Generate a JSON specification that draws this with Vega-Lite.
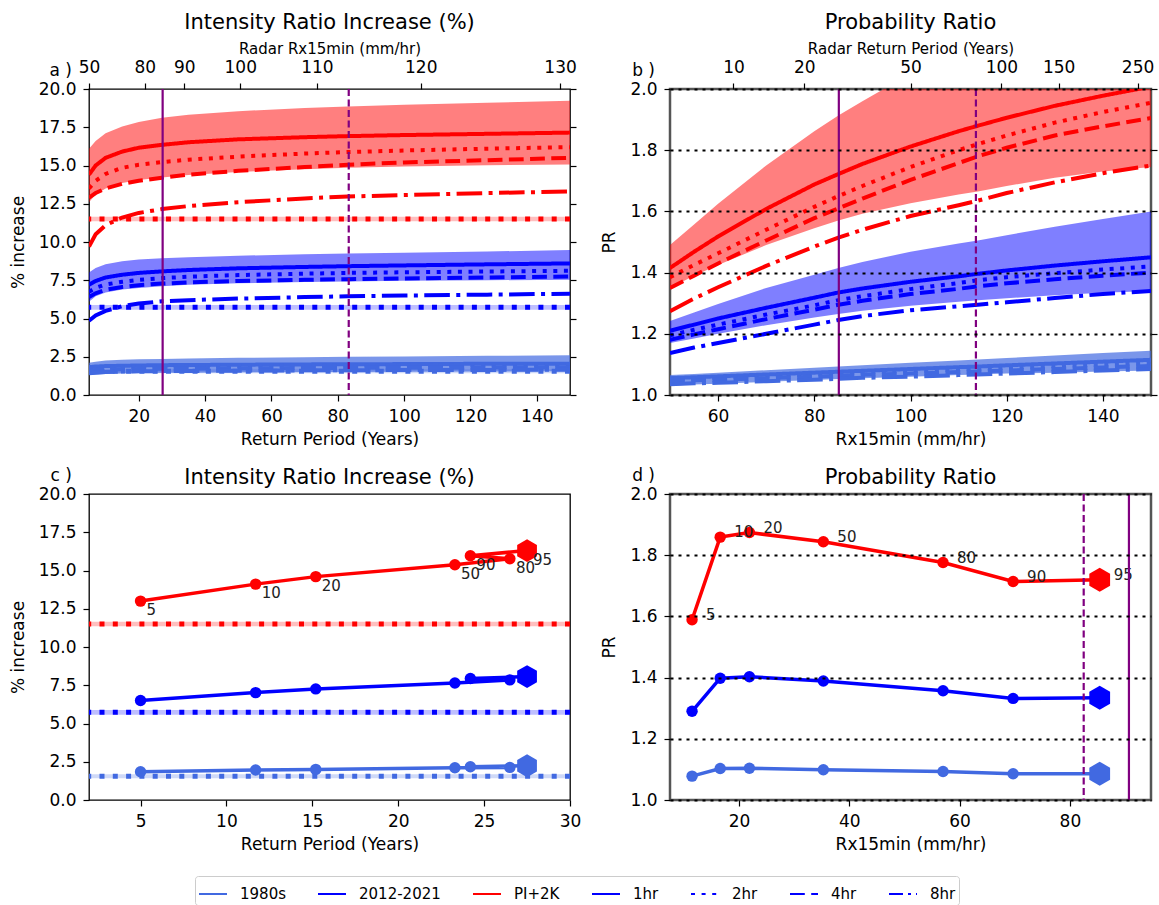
{
"$schema": "https://vega.github.io/schema/vega-lite/v6.json",
"padding": {"left": 8, "top": 10, "right": 2, "bottom": 0},
"background": "white",
"config": {
  "font": "DejaVu Sans",
  "view": {"stroke": "black", "strokeWidth": 1.3},
  "axis": {"domain": false, "grid": false, "tickSize": 6, "tickColor": "black", "tickWidth": 1.2, "labelFontSize": 17, "labelColor": "black", "labelPadding": 7, "labelFlush": false, "labelOverlap": false, "titleFontSize": 17, "titleFontWeight": "normal", "titleColor": "black", "titlePadding": 7},
  "axisY": {"titlePadding": 11},
  "title": {"fontSize": 21, "fontWeight": "normal", "color": "black", "frame": "group", "anchor": "middle"},
  "text": {"font": "DejaVu Sans"}
},
"datasets": {
  "pa": [
    {"grp":"PI+2K","x":5,"lo":12.6,"hi":16.1,"1hr":14.4,"2hr":13.5,"4hr":12.9,"8hr":9.7},
    {"grp":"PI+2K","x":7,"lo":13.1,"hi":16.6,"1hr":15.0,"2hr":14.0,"4hr":13.2,"8hr":10.5},
    {"grp":"PI+2K","x":10,"lo":13.5,"hi":17.1,"1hr":15.5,"2hr":14.45,"4hr":13.5,"8hr":11.1},
    {"grp":"PI+2K","x":15,"lo":13.85,"hi":17.55,"1hr":15.91,"2hr":14.85,"4hr":13.8,"8hr":11.6},
    {"grp":"PI+2K","x":20,"lo":14.05,"hi":17.85,"1hr":16.16,"2hr":15.05,"4hr":14.0,"8hr":11.9},
    {"grp":"PI+2K","x":27,"lo":14.22,"hi":18.12,"1hr":16.35,"2hr":15.22,"4hr":14.2,"8hr":12.15},
    {"grp":"PI+2K","x":35,"lo":14.38,"hi":18.32,"1hr":16.52,"2hr":15.38,"4hr":14.4,"8hr":12.35},
    {"grp":"PI+2K","x":50,"lo":14.58,"hi":18.55,"1hr":16.71,"2hr":15.58,"4hr":14.65,"8hr":12.6},
    {"grp":"PI+2K","x":70,"lo":14.76,"hi":18.76,"1hr":16.85,"2hr":15.78,"4hr":14.9,"8hr":12.85},
    {"grp":"PI+2K","x":83,"lo":14.85,"hi":18.86,"1hr":16.92,"2hr":15.88,"4hr":15.05,"8hr":12.97},
    {"grp":"PI+2K","x":100,"lo":14.93,"hi":18.97,"1hr":16.99,"2hr":15.98,"4hr":15.2,"8hr":13.07},
    {"grp":"PI+2K","x":125,"lo":15.01,"hi":19.1,"1hr":17.07,"2hr":16.1,"4hr":15.35,"8hr":13.2},
    {"grp":"PI+2K","x":150,"lo":15.07,"hi":19.23,"1hr":17.15,"2hr":16.2,"4hr":15.5,"8hr":13.3},
    {"grp":"2012-2021","x":5,"lo":6.1,"hi":8.0,"1hr":7.2,"2hr":6.75,"4hr":6.4,"8hr":4.85},
    {"grp":"2012-2021","x":7,"lo":6.45,"hi":8.3,"1hr":7.45,"2hr":7.0,"4hr":6.65,"8hr":5.2},
    {"grp":"2012-2021","x":10,"lo":6.7,"hi":8.55,"1hr":7.68,"2hr":7.22,"4hr":6.88,"8hr":5.5},
    {"grp":"2012-2021","x":15,"lo":6.9,"hi":8.75,"1hr":7.86,"2hr":7.4,"4hr":7.06,"8hr":5.8},
    {"grp":"2012-2021","x":20,"lo":7.0,"hi":8.85,"1hr":7.98,"2hr":7.53,"4hr":7.18,"8hr":5.98},
    {"grp":"2012-2021","x":27,"lo":7.1,"hi":8.93,"1hr":8.08,"2hr":7.64,"4hr":7.28,"8hr":6.12},
    {"grp":"2012-2021","x":35,"lo":7.2,"hi":9.0,"1hr":8.17,"2hr":7.73,"4hr":7.36,"8hr":6.2},
    {"grp":"2012-2021","x":50,"lo":7.3,"hi":9.1,"1hr":8.28,"2hr":7.84,"4hr":7.45,"8hr":6.3},
    {"grp":"2012-2021","x":70,"lo":7.38,"hi":9.2,"1hr":8.37,"2hr":7.93,"4hr":7.53,"8hr":6.4},
    {"grp":"2012-2021","x":83,"lo":7.42,"hi":9.25,"1hr":8.42,"2hr":7.98,"4hr":7.57,"8hr":6.45},
    {"grp":"2012-2021","x":100,"lo":7.46,"hi":9.3,"1hr":8.47,"2hr":8.02,"4hr":7.62,"8hr":6.5},
    {"grp":"2012-2021","x":125,"lo":7.5,"hi":9.38,"1hr":8.54,"2hr":8.07,"4hr":7.68,"8hr":6.56},
    {"grp":"2012-2021","x":150,"lo":7.53,"hi":9.47,"1hr":8.6,"2hr":8.12,"4hr":7.74,"8hr":6.62},
    {"grp":"1980s","x":5,"lo":1.3,"hi":2.1,"1hr":1.82,"2hr":1.72,"4hr":1.6,"8hr":1.42},
    {"grp":"1980s","x":7,"lo":1.34,"hi":2.18,"1hr":1.86,"2hr":1.76,"4hr":1.63,"8hr":1.46},
    {"grp":"1980s","x":10,"lo":1.38,"hi":2.25,"1hr":1.89,"2hr":1.79,"4hr":1.66,"8hr":1.5},
    {"grp":"1980s","x":15,"lo":1.41,"hi":2.3,"1hr":1.91,"2hr":1.82,"4hr":1.68,"8hr":1.53},
    {"grp":"1980s","x":20,"lo":1.43,"hi":2.33,"1hr":1.93,"2hr":1.84,"4hr":1.7,"8hr":1.55},
    {"grp":"1980s","x":27,"lo":1.45,"hi":2.36,"1hr":1.95,"2hr":1.86,"4hr":1.71,"8hr":1.56},
    {"grp":"1980s","x":35,"lo":1.46,"hi":2.39,"1hr":1.96,"2hr":1.87,"4hr":1.72,"8hr":1.57},
    {"grp":"1980s","x":50,"lo":1.48,"hi":2.43,"1hr":1.98,"2hr":1.89,"4hr":1.74,"8hr":1.59},
    {"grp":"1980s","x":70,"lo":1.5,"hi":2.47,"1hr":2.0,"2hr":1.91,"4hr":1.76,"8hr":1.61},
    {"grp":"1980s","x":83,"lo":1.51,"hi":2.5,"1hr":2.01,"2hr":1.92,"4hr":1.77,"8hr":1.62},
    {"grp":"1980s","x":100,"lo":1.52,"hi":2.52,"1hr":2.02,"2hr":1.93,"4hr":1.78,"8hr":1.63},
    {"grp":"1980s","x":125,"lo":1.53,"hi":2.56,"1hr":2.04,"2hr":1.94,"4hr":1.79,"8hr":1.64},
    {"grp":"1980s","x":150,"lo":1.55,"hi":2.6,"1hr":2.05,"2hr":1.95,"4hr":1.8,"8hr":1.65}
  ],
  "pb": [
    {"grp":"PI+2K","x":50,"lo":1.35,"hi":1.49,"1hr":1.415,"2hr":1.385,"4hr":1.35,"8hr":1.274},
    {"grp":"PI+2K","x":55,"lo":1.39,"hi":1.557,"1hr":1.468,"2hr":1.425,"4hr":1.39,"8hr":1.315},
    {"grp":"PI+2K","x":60,"lo":1.425,"hi":1.625,"1hr":1.518,"2hr":1.463,"4hr":1.43,"8hr":1.352},
    {"grp":"PI+2K","x":70,"lo":1.49,"hi":1.75,"1hr":1.608,"2hr":1.54,"4hr":1.505,"8hr":1.422},
    {"grp":"PI+2K","x":80,"lo":1.545,"hi":1.862,"1hr":1.688,"2hr":1.615,"4hr":1.578,"8hr":1.485},
    {"grp":"PI+2K","x":85,"lo":1.57,"hi":1.913,"1hr":1.722,"2hr":1.65,"4hr":1.61,"8hr":1.514},
    {"grp":"PI+2K","x":90,"lo":1.592,"hi":1.96,"1hr":1.755,"2hr":1.683,"4hr":1.642,"8hr":1.54},
    {"grp":"PI+2K","x":100,"lo":1.627,"hi":2.05,"1hr":1.812,"2hr":1.745,"4hr":1.703,"8hr":1.585},
    {"grp":"PI+2K","x":110,"lo":1.655,"hi":2.13,"1hr":1.862,"2hr":1.8,"4hr":1.758,"8hr":1.62},
    {"grp":"PI+2K","x":114,"lo":1.665,"hi":2.16,"1hr":1.88,"2hr":1.82,"4hr":1.78,"8hr":1.635},
    {"grp":"PI+2K","x":120,"lo":1.683,"hi":2.2,"1hr":1.906,"2hr":1.848,"4hr":1.808,"8hr":1.66},
    {"grp":"PI+2K","x":130,"lo":1.71,"hi":2.27,"1hr":1.945,"2hr":1.89,"4hr":1.848,"8hr":1.695},
    {"grp":"PI+2K","x":140,"lo":1.73,"hi":2.33,"1hr":1.978,"2hr":1.925,"4hr":1.878,"8hr":1.725},
    {"grp":"PI+2K","x":150,"lo":1.745,"hi":2.39,"1hr":2.008,"2hr":1.955,"4hr":1.905,"8hr":1.75},
    {"grp":"2012-2021","x":50,"lo":1.17,"hi":1.242,"1hr":1.21,"2hr":1.195,"4hr":1.18,"8hr":1.137},
    {"grp":"2012-2021","x":55,"lo":1.185,"hi":1.27,"1hr":1.23,"2hr":1.213,"4hr":1.198,"8hr":1.155},
    {"grp":"2012-2021","x":60,"lo":1.2,"hi":1.297,"1hr":1.25,"2hr":1.23,"4hr":1.215,"8hr":1.17},
    {"grp":"2012-2021","x":70,"lo":1.228,"hi":1.35,"1hr":1.285,"2hr":1.263,"4hr":1.248,"8hr":1.2},
    {"grp":"2012-2021","x":80,"lo":1.253,"hi":1.393,"1hr":1.318,"2hr":1.293,"4hr":1.279,"8hr":1.23},
    {"grp":"2012-2021","x":85,"lo":1.265,"hi":1.415,"1hr":1.335,"2hr":1.31,"4hr":1.295,"8hr":1.245},
    {"grp":"2012-2021","x":90,"lo":1.275,"hi":1.435,"1hr":1.348,"2hr":1.323,"4hr":1.308,"8hr":1.258},
    {"grp":"2012-2021","x":100,"lo":1.292,"hi":1.468,"1hr":1.37,"2hr":1.346,"4hr":1.33,"8hr":1.277},
    {"grp":"2012-2021","x":110,"lo":1.305,"hi":1.495,"1hr":1.388,"2hr":1.366,"4hr":1.347,"8hr":1.29},
    {"grp":"2012-2021","x":114,"lo":1.31,"hi":1.505,"1hr":1.396,"2hr":1.375,"4hr":1.355,"8hr":1.295},
    {"grp":"2012-2021","x":120,"lo":1.316,"hi":1.522,"1hr":1.407,"2hr":1.385,"4hr":1.365,"8hr":1.303},
    {"grp":"2012-2021","x":130,"lo":1.326,"hi":1.55,"1hr":1.423,"2hr":1.398,"4hr":1.378,"8hr":1.317},
    {"grp":"2012-2021","x":140,"lo":1.334,"hi":1.575,"1hr":1.437,"2hr":1.41,"4hr":1.39,"8hr":1.33},
    {"grp":"2012-2021","x":150,"lo":1.34,"hi":1.6,"1hr":1.45,"2hr":1.42,"4hr":1.4,"8hr":1.34},
    {"grp":"1980s","x":50,"lo":1.03,"hi":1.065,"1hr":1.055,"2hr":1.05,"4hr":1.045,"8hr":1.035},
    {"grp":"1980s","x":55,"lo":1.034,"hi":1.069,"1hr":1.058,"2hr":1.053,"4hr":1.048,"8hr":1.038},
    {"grp":"1980s","x":60,"lo":1.037,"hi":1.073,"1hr":1.061,"2hr":1.056,"4hr":1.05,"8hr":1.04},
    {"grp":"1980s","x":70,"lo":1.043,"hi":1.081,"1hr":1.067,"2hr":1.061,"4hr":1.055,"8hr":1.045},
    {"grp":"1980s","x":80,"lo":1.049,"hi":1.089,"1hr":1.073,"2hr":1.067,"4hr":1.06,"8hr":1.05},
    {"grp":"1980s","x":85,"lo":1.052,"hi":1.093,"1hr":1.076,"2hr":1.07,"4hr":1.063,"8hr":1.053},
    {"grp":"1980s","x":90,"lo":1.055,"hi":1.097,"1hr":1.079,"2hr":1.073,"4hr":1.066,"8hr":1.056},
    {"grp":"1980s","x":100,"lo":1.06,"hi":1.105,"1hr":1.085,"2hr":1.078,"4hr":1.07,"8hr":1.06},
    {"grp":"1980s","x":110,"lo":1.065,"hi":1.113,"1hr":1.091,"2hr":1.083,"4hr":1.075,"8hr":1.065},
    {"grp":"1980s","x":114,"lo":1.067,"hi":1.116,"1hr":1.093,"2hr":1.085,"4hr":1.077,"8hr":1.067},
    {"grp":"1980s","x":120,"lo":1.07,"hi":1.121,"1hr":1.097,"2hr":1.089,"4hr":1.08,"8hr":1.07},
    {"grp":"1980s","x":130,"lo":1.073,"hi":1.129,"1hr":1.103,"2hr":1.095,"4hr":1.085,"8hr":1.075},
    {"grp":"1980s","x":140,"lo":1.077,"hi":1.137,"1hr":1.109,"2hr":1.1,"4hr":1.09,"8hr":1.08},
    {"grp":"1980s","x":150,"lo":1.08,"hi":1.145,"1hr":1.115,"2hr":1.105,"4hr":1.095,"8hr":1.085}
  ],
  "hl": [
    {"grp":"1980s","y":1.55,"lo":1.42,"hi":1.68},
    {"grp":"2012-2021","y":5.73,"lo":5.58,"hi":5.88},
    {"grp":"PI+2K","y":11.5,"lo":11.35,"hi":11.65}
  ],
  "pc": [
    {"grp":"1980s","ord":1,"lab":"5","x":5.0,"y":1.85},
    {"grp":"1980s","ord":2,"lab":"10","x":11.7,"y":1.96},
    {"grp":"1980s","ord":3,"lab":"20","x":15.2,"y":2.0},
    {"grp":"1980s","ord":4,"lab":"50","x":23.3,"y":2.11},
    {"grp":"1980s","ord":5,"lab":"80","x":26.5,"y":2.13},
    {"grp":"1980s","ord":6,"lab":"90","x":24.2,"y":2.17},
    {"grp":"1980s","ord":7,"lab":"95","x":27.5,"y":2.24},
    {"grp":"2012-2021","ord":1,"lab":"5","x":5.0,"y":6.5},
    {"grp":"2012-2021","ord":2,"lab":"10","x":11.7,"y":7.02},
    {"grp":"2012-2021","ord":3,"lab":"20","x":15.2,"y":7.26},
    {"grp":"2012-2021","ord":4,"lab":"50","x":23.3,"y":7.65},
    {"grp":"2012-2021","ord":5,"lab":"80","x":26.5,"y":7.85},
    {"grp":"2012-2021","ord":6,"lab":"90","x":24.2,"y":7.94},
    {"grp":"2012-2021","ord":7,"lab":"95","x":27.5,"y":8.07},
    {"grp":"PI+2K","ord":1,"lab":"5","x":5.0,"y":13.0},
    {"grp":"PI+2K","ord":2,"lab":"10","x":11.7,"y":14.11},
    {"grp":"PI+2K","ord":3,"lab":"20","x":15.2,"y":14.6},
    {"grp":"PI+2K","ord":4,"lab":"50","x":23.3,"y":15.38},
    {"grp":"PI+2K","ord":5,"lab":"80","x":26.5,"y":15.77},
    {"grp":"PI+2K","ord":6,"lab":"90","x":24.2,"y":15.97},
    {"grp":"PI+2K","ord":7,"lab":"95","x":27.5,"y":16.3}
  ],
  "pd": [
    {"grp":"1980s","ord":1,"lab":"5","x":11.5,"y":1.078},
    {"grp":"1980s","ord":2,"lab":"10","x":16.6,"y":1.103},
    {"grp":"1980s","ord":3,"lab":"20","x":21.9,"y":1.104},
    {"grp":"1980s","ord":4,"lab":"50","x":35.3,"y":1.099},
    {"grp":"1980s","ord":5,"lab":"80","x":57.0,"y":1.093},
    {"grp":"1980s","ord":6,"lab":"90","x":69.7,"y":1.086},
    {"grp":"1980s","ord":7,"lab":"95","x":85.4,"y":1.086},
    {"grp":"2012-2021","ord":1,"lab":"5","x":11.5,"y":1.29},
    {"grp":"2012-2021","ord":2,"lab":"10","x":16.6,"y":1.398},
    {"grp":"2012-2021","ord":3,"lab":"20","x":21.9,"y":1.403},
    {"grp":"2012-2021","ord":4,"lab":"50","x":35.3,"y":1.389},
    {"grp":"2012-2021","ord":5,"lab":"80","x":57.0,"y":1.357},
    {"grp":"2012-2021","ord":6,"lab":"90","x":69.7,"y":1.332},
    {"grp":"2012-2021","ord":7,"lab":"95","x":85.4,"y":1.334},
    {"grp":"PI+2K","ord":1,"lab":"5","x":11.5,"y":1.589},
    {"grp":"PI+2K","ord":2,"lab":"10","x":16.6,"y":1.859},
    {"grp":"PI+2K","ord":3,"lab":"20","x":21.9,"y":1.874},
    {"grp":"PI+2K","ord":4,"lab":"50","x":35.3,"y":1.844},
    {"grp":"PI+2K","ord":5,"lab":"80","x":57.0,"y":1.776},
    {"grp":"PI+2K","ord":6,"lab":"90","x":69.7,"y":1.714},
    {"grp":"PI+2K","ord":7,"lab":"95","x":85.4,"y":1.72}
  ],
  "leg": [
    {"grp":"1980s"},{"grp":"2012-2021"},{"grp":"PI+2K"},{"grp":"1hr"},{"grp":"2hr"},{"grp":"4hr"},{"grp":"8hr"}
  ]
},
"columns": 2,
"spacing": {"row": 99, "column": 100},
"bounds": "flush",
"resolve": {"scale": {"color": "independent", "strokeDash": "independent", "strokeWidth": "independent"}},
"concat": [
  {
    "width": 481, "height": 306,
    "title": {"text": "Intensity Ratio Increase (%)", "offset": 8},
    "resolve": {"axis": {"x": "independent", "y": "independent"}},
    "layer": [
      {"data": {"name": "pa"},
       "mark": {"type": "area", "clip": true},
       "encoding": {
         "x": {"field": "x", "type": "quantitative", "scale": {"domain": [5, 150], "nice": false, "zero": false}, "axis": {"title": "Return Period (Years)", "values": [20,40,60,80,100,120,140]}},
         "y": {"field": "lo", "type": "quantitative", "scale": {"domain": [0, 20], "nice": false, "zero": false}, "axis": {"title": "% increase", "values": [0,2.5,5,7.5,10,12.5,15,17.5,20], "format": ".1f"}},
         "y2": {"field": "hi"},
         "color": {"field": "grp", "type": "nominal", "scale": {"domain": ["1980s","2012-2021","PI+2K","1hr","2hr","4hr","8hr"], "range": ["#4169e1","#0000ff","#ff0000","#0000ff","#0000ff","#0000ff","#0000ff"]}, "legend": null},
         "fillOpacity": {"condition": {"test": "datum.grp === '1980s'", "value": 0.7}, "value": 0.5}
       }},
      {"data": {"name": "hl"},
       "mark": {"type": "rect", "opacity": 0.25},
       "encoding": {
         "y": {"field": "lo", "type": "quantitative", "scale": {"domain": [0, 20], "nice": false, "zero": false}, "axis": null},
         "y2": {"field": "hi"},
         "color": {"field": "grp", "type": "nominal", "scale": {"domain": ["1980s","2012-2021","PI+2K","1hr","2hr","4hr","8hr"], "range": ["#4169e1","#0000ff","#ff0000","#0000ff","#0000ff","#0000ff","#0000ff"]}, "legend": null}
       }},
      {"data": {"name": "hl"},
       "mark": {"type": "rule", "strokeWidth": 5, "strokeDash": [5, 8.3]},
       "encoding": {
         "y": {"field": "y", "type": "quantitative", "scale": {"domain": [0, 20], "nice": false, "zero": false}, "axis": {"orient": "right", "labels": false, "title": null, "values": [0,2.5,5,7.5,10,12.5,15,17.5,20]}},
         "color": {"field": "grp", "type": "nominal", "scale": {"domain": ["1980s","2012-2021","PI+2K","1hr","2hr","4hr","8hr"], "range": ["#4169e1","#0000ff","#ff0000","#0000ff","#0000ff","#0000ff","#0000ff"]}, "legend": null}
       }},
      {"data": {"name": "pa"},
       "transform": [{"fold": ["1hr","2hr","4hr","8hr"], "as": ["dur","val"]}],
       "mark": {"type": "line", "strokeWidth": 4, "clip": true},
       "encoding": {
         "x": {"field": "x", "type": "quantitative", "scale": {"domain": [5, 150], "nice": false, "zero": false}, "axis": null},
         "y": {"field": "val", "type": "quantitative", "scale": {"domain": [0, 20], "nice": false, "zero": false}, "axis": null},
         "color": {"field": "grp", "type": "nominal", "scale": {"domain": ["1980s","2012-2021","PI+2K","1hr","2hr","4hr","8hr"], "range": ["#4169e1","#0000ff","#ff0000","#0000ff","#0000ff","#0000ff","#0000ff"]}, "legend": null},
         "strokeDash": {"field": "dur", "type": "nominal", "scale": {"domain": ["1980s","2012-2021","PI+2K","1hr","2hr","4hr","8hr"], "range": [[1,0],[1,0],[1,0],[1,0],[4,6.6],[14.8,6.4],[25.6,6.4,4,6.4]]}, "legend": null}
       }},
      {"data": {"values": [{"v": 27.2}]},
       "mark": {"type": "rule", "color": "purple", "strokeWidth": 2.2},
       "encoding": {
         "x": {"field": "v", "type": "quantitative", "scale": {"domain": [5, 150], "nice": false, "zero": false}, "axis": {"orient": "top", "title": "Radar Rx15min (mm/hr)", "titleFontSize": 15, "titlePadding": 2, "values": [5,21.8,33.7,50.6,73.7,105,147], "labelExpr": "datum.value < 10 ? '50' : datum.value < 25 ? '80' : datum.value < 40 ? '90' : datum.value < 60 ? '100' : datum.value < 90 ? '110' : datum.value < 120 ? '120' : '130'"}}
       }},
      {"data": {"values": [{"v": 83.3}]},
       "mark": {"type": "rule", "color": "purple", "strokeWidth": 2.2, "strokeDash": [7, 3.5]},
       "encoding": {
         "x": {"field": "v", "type": "quantitative", "scale": {"domain": [5, 150], "nice": false, "zero": false}, "axis": null}
       }},
      {"data": {"values": [{"t": "a )"}]},
       "mark": {"type": "text", "align": "right", "baseline": "middle", "dx": -17, "dy": -18, "fontSize": 17, "color": "black"},
       "encoding": {
         "x": {"datum": 5, "type": "quantitative", "scale": {"domain": [5, 150], "nice": false, "zero": false}, "axis": null},
         "y": {"datum": 20, "type": "quantitative", "scale": {"domain": [0, 20], "nice": false, "zero": false}, "axis": null},
         "text": {"field": "t"}
       }}
    ]
  },
  {
    "width": 481, "height": 306,
    "title": {"text": "Probability Ratio", "offset": 8},
    "view": {"stroke": "#555555", "strokeWidth": 2.5},
    "resolve": {"axis": {"x": "independent", "y": "independent"}},
    "layer": [
      {"data": {"name": "pb"},
       "mark": {"type": "area", "clip": true},
       "encoding": {
         "x": {"field": "x", "type": "quantitative", "scale": {"domain": [50, 150], "nice": false, "zero": false}, "axis": {"title": "Rx15min (mm/hr)", "values": [60,80,100,120,140]}},
         "y": {"field": "lo", "type": "quantitative", "scale": {"domain": [1, 2], "nice": false, "zero": false}, "axis": {"title": "PR", "values": [1,1.2,1.4,1.6,1.8,2], "format": ".1f", "grid": true, "gridColor": "black", "gridDash": [3, 5], "gridWidth": 2.2, "gridOpacity": 1, "zindex": 1}},
         "y2": {"field": "hi"},
         "color": {"field": "grp", "type": "nominal", "scale": {"domain": ["1980s","2012-2021","PI+2K","1hr","2hr","4hr","8hr"], "range": ["#4169e1","#0000ff","#ff0000","#0000ff","#0000ff","#0000ff","#0000ff"]}, "legend": null},
         "fillOpacity": {"condition": {"test": "datum.grp === '1980s'", "value": 0.7}, "value": 0.5}
       }},
      {"data": {"name": "pb"},
       "transform": [{"fold": ["1hr","2hr","4hr","8hr"], "as": ["dur","val"]}],
       "mark": {"type": "line", "strokeWidth": 4, "clip": true},
       "encoding": {
         "x": {"field": "x", "type": "quantitative", "scale": {"domain": [50, 150], "nice": false, "zero": false}, "axis": null},
         "y": {"field": "val", "type": "quantitative", "scale": {"domain": [1, 2], "nice": false, "zero": false}, "axis": {"orient": "right", "labels": false, "title": null, "values": [1,1.2,1.4,1.6,1.8,2]}},
         "color": {"field": "grp", "type": "nominal", "scale": {"domain": ["1980s","2012-2021","PI+2K","1hr","2hr","4hr","8hr"], "range": ["#4169e1","#0000ff","#ff0000","#0000ff","#0000ff","#0000ff","#0000ff"]}, "legend": null},
         "strokeDash": {"field": "dur", "type": "nominal", "scale": {"domain": ["1980s","2012-2021","PI+2K","1hr","2hr","4hr","8hr"], "range": [[1,0],[1,0],[1,0],[1,0],[4,6.6],[14.8,6.4],[25.6,6.4,4,6.4]]}, "legend": null}
       }},
      {"data": {"values": [{"v": 85.1}]},
       "mark": {"type": "rule", "color": "purple", "strokeWidth": 2.2},
       "encoding": {
         "x": {"field": "v", "type": "quantitative", "scale": {"domain": [50, 150], "nice": false, "zero": false}, "axis": {"orient": "top", "title": "Radar Return Period (Years)", "titleFontSize": 15, "titlePadding": 2, "values": [63.2,77.9,100,118.9,130.8,147.2], "labelExpr": "datum.value < 70 ? '10' : datum.value < 90 ? '20' : datum.value < 110 ? '50' : datum.value < 125 ? '100' : datum.value < 140 ? '150' : '250'"}}
       }},
      {"data": {"values": [{"v": 113.6}]},
       "mark": {"type": "rule", "color": "purple", "strokeWidth": 2.2, "strokeDash": [7, 3.5]},
       "encoding": {
         "x": {"field": "v", "type": "quantitative", "scale": {"domain": [50, 150], "nice": false, "zero": false}, "axis": null}
       }},
      {"data": {"values": [{"t": "b )"}]},
       "mark": {"type": "text", "align": "right", "baseline": "middle", "dx": -15, "dy": -18, "fontSize": 17, "color": "black"},
       "encoding": {
         "x": {"datum": 50, "type": "quantitative", "scale": {"domain": [50, 150], "nice": false, "zero": false}, "axis": null},
         "y": {"datum": 2, "type": "quantitative", "scale": {"domain": [1, 2], "nice": false, "zero": false}, "axis": null},
         "text": {"field": "t"}
       }}
    ]
  },
  {
    "width": 481, "height": 306,
    "title": {"text": "Intensity Ratio Increase (%)", "offset": -21},
    "resolve": {"axis": {"x": "independent", "y": "independent"}, "legend": {"color": "independent", "strokeDash": "independent", "strokeWidth": "independent"}},
    "layer": [
      {"data": {"name": "hl"},
       "mark": {"type": "rect", "opacity": 0.25},
       "encoding": {
         "y": {"field": "lo", "type": "quantitative", "scale": {"domain": [0, 20], "nice": false, "zero": false}, "axis": {"title": "% increase", "values": [0,2.5,5,7.5,10,12.5,15,17.5,20], "format": ".1f"}},
         "y2": {"field": "hi"},
         "color": {"field": "grp", "type": "nominal", "scale": {"domain": ["1980s","2012-2021","PI+2K","1hr","2hr","4hr","8hr"], "range": ["#4169e1","#0000ff","#ff0000","#0000ff","#0000ff","#0000ff","#0000ff"]}, "legend": null}
       }},
      {"data": {"name": "hl"},
       "mark": {"type": "rule", "strokeWidth": 5, "strokeDash": [5, 8.3]},
       "encoding": {
         "y": {"field": "y", "type": "quantitative", "scale": {"domain": [0, 20], "nice": false, "zero": false}, "axis": null},
         "color": {"field": "grp", "type": "nominal", "scale": {"domain": ["1980s","2012-2021","PI+2K","1hr","2hr","4hr","8hr"], "range": ["#4169e1","#0000ff","#ff0000","#0000ff","#0000ff","#0000ff","#0000ff"]}, "legend": null}
       }},
      {"data": {"name": "pc"},
       "mark": {"type": "line", "strokeWidth": 3.5},
       "encoding": {
         "x": {"field": "x", "type": "quantitative", "scale": {"domain": [2, 30], "nice": false, "zero": false}, "axis": {"title": "Return Period (Years)", "values": [5,10,15,20,25,30]}},
         "y": {"field": "y", "type": "quantitative", "scale": {"domain": [0, 20], "nice": false, "zero": false}, "axis": null},
         "order": {"field": "ord"},
         "color": {"field": "grp", "type": "nominal", "scale": {"domain": ["1980s","2012-2021","PI+2K","1hr","2hr","4hr","8hr"], "range": ["#4169e1","#0000ff","#ff0000","#0000ff","#0000ff","#0000ff","#0000ff"]}, "legend": null}
       }},
      {"data": {"name": "pc"},
       "transform": [{"filter": "datum.ord < 7"}],
       "mark": {"type": "point", "shape": "circle", "filled": true, "size": 130, "opacity": 1},
       "encoding": {
         "x": {"field": "x", "type": "quantitative", "scale": {"domain": [2, 30], "nice": false, "zero": false}, "axis": null},
         "y": {"field": "y", "type": "quantitative", "scale": {"domain": [0, 20], "nice": false, "zero": false}, "axis": null},
         "color": {"field": "grp", "type": "nominal", "scale": {"domain": ["1980s","2012-2021","PI+2K","1hr","2hr","4hr","8hr"], "range": ["#4169e1","#0000ff","#ff0000","#0000ff","#0000ff","#0000ff","#0000ff"]}, "legend": null}
       }},
      {"data": {"name": "pc"},
       "transform": [{"filter": "datum.ord === 7"}],
       "mark": {"type": "point", "shape": "M0,-1L0.866,-0.5L0.866,0.5L0,1L-0.866,0.5L-0.866,-0.5Z", "filled": true, "size": 520, "opacity": 1},
       "encoding": {
         "x": {"field": "x", "type": "quantitative", "scale": {"domain": [2, 30], "nice": false, "zero": false}, "axis": null},
         "y": {"field": "y", "type": "quantitative", "scale": {"domain": [0, 20], "nice": false, "zero": false}, "axis": null},
         "color": {"field": "grp", "type": "nominal", "scale": {"domain": ["1980s","2012-2021","PI+2K","1hr","2hr","4hr","8hr"], "range": ["#4169e1","#0000ff","#ff0000","#0000ff","#0000ff","#0000ff","#0000ff"]}, "legend": null}
       }},
      {"data": {"name": "pc"},
       "transform": [{"filter": "datum.grp === 'PI+2K'"}],
       "mark": {"type": "text", "align": "left", "baseline": "middle", "dx": 6, "dy": 9, "fontSize": 15, "color": "#222222"},
       "encoding": {
         "x": {"field": "x", "type": "quantitative", "scale": {"domain": [2, 30], "nice": false, "zero": false}, "axis": null},
         "y": {"field": "y", "type": "quantitative", "scale": {"domain": [0, 20], "nice": false, "zero": false}, "axis": null},
         "text": {"field": "lab"}
       }},
      {"data": {"values": [{"t": "c )"}]},
       "mark": {"type": "text", "align": "right", "baseline": "middle", "dx": -17, "dy": -18, "fontSize": 17, "color": "black"},
       "encoding": {
         "x": {"datum": 2, "type": "quantitative", "scale": {"domain": [2, 30], "nice": false, "zero": false}, "axis": null},
         "y": {"datum": 20, "type": "quantitative", "scale": {"domain": [0, 20], "nice": false, "zero": false}, "axis": null},
         "text": {"field": "t"}
       }},
      {"data": {"name": "leg"},
       "mark": {"type": "line", "strokeCap": "butt"},
       "encoding": {
         "x": {"datum": 10, "type": "quantitative", "scale": {"domain": [2, 30], "nice": false, "zero": false}, "axis": null},
         "y": {"datum": 10, "type": "quantitative", "scale": {"domain": [0, 20], "nice": false, "zero": false}, "axis": null},
         "color": {"field": "grp", "type": "nominal", "scale": {"domain": ["1980s","2012-2021","PI+2K","1hr","2hr","4hr","8hr"], "range": ["#4169e1","#0000ff","#ff0000","#0000ff","#0000ff","#0000ff","#0000ff"]},
           "legend": {"orient": "none", "legendX": 106, "legendY": 382, "direction": "horizontal", "columns": 7, "title": null, "symbolType": "stroke", "symbolSize": 784, "labelFontSize": 15, "labelColor": "black", "labelOffset": 12, "columnPadding": 28, "padding": 3, "strokeColor": "#cccccc", "fillColor": "white", "cornerRadius": 3}},
         "strokeDash": {"field": "grp", "type": "nominal", "scale": {"domain": ["1980s","2012-2021","PI+2K","1hr","2hr","4hr","8hr"], "range": [[1,0],[1,0],[1,0],[1,0],[4,6.6],[14.8,6.4],[14,5,3,5]]},
           "legend": {"orient": "none", "legendX": 106, "legendY": 382, "direction": "horizontal", "columns": 7, "title": null, "symbolType": "stroke", "symbolSize": 784, "labelFontSize": 15, "labelColor": "black", "labelOffset": 12, "columnPadding": 28, "padding": 3, "strokeColor": "#cccccc", "fillColor": "white", "cornerRadius": 3}},
         "strokeWidth": {"field": "grp", "type": "nominal", "scale": {"domain": ["1980s","2012-2021","PI+2K","1hr","2hr","4hr","8hr"], "range": [2,2,2,4,4,4,4]},
           "legend": {"orient": "none", "legendX": 106, "legendY": 382, "direction": "horizontal", "columns": 7, "title": null, "symbolType": "stroke", "symbolSize": 784, "labelFontSize": 15, "labelColor": "black", "labelOffset": 12, "columnPadding": 28, "padding": 3, "strokeColor": "#cccccc", "fillColor": "white", "cornerRadius": 3}}
       }}
    ]
  },
  {
    "width": 481, "height": 306,
    "title": {"text": "Probability Ratio", "offset": -21},
    "view": {"stroke": "#555555", "strokeWidth": 2.5},
    "resolve": {"axis": {"x": "independent", "y": "independent"}},
    "layer": [
      {"data": {"name": "pd"},
       "mark": {"type": "line", "strokeWidth": 3.5},
       "encoding": {
         "x": {"field": "x", "type": "quantitative", "scale": {"domain": [7.5, 94.7], "nice": false, "zero": false}, "axis": {"title": "Rx15min (mm/hr)", "values": [20,40,60,80]}},
         "y": {"field": "y", "type": "quantitative", "scale": {"domain": [1, 2], "nice": false, "zero": false}, "axis": {"title": "PR", "values": [1,1.2,1.4,1.6,1.8,2], "format": ".1f", "grid": true, "gridColor": "black", "gridDash": [3, 5], "gridWidth": 2.2, "gridOpacity": 1, "zindex": 1}},
         "order": {"field": "ord"},
         "color": {"field": "grp", "type": "nominal", "scale": {"domain": ["1980s","2012-2021","PI+2K","1hr","2hr","4hr","8hr"], "range": ["#4169e1","#0000ff","#ff0000","#0000ff","#0000ff","#0000ff","#0000ff"]}, "legend": null}
       }},
      {"data": {"name": "pd"},
       "transform": [{"filter": "datum.ord < 7"}],
       "mark": {"type": "point", "shape": "circle", "filled": true, "size": 130, "opacity": 1},
       "encoding": {
         "x": {"field": "x", "type": "quantitative", "scale": {"domain": [7.5, 94.7], "nice": false, "zero": false}, "axis": null},
         "y": {"field": "y", "type": "quantitative", "scale": {"domain": [1, 2], "nice": false, "zero": false}, "axis": null},
         "color": {"field": "grp", "type": "nominal", "scale": {"domain": ["1980s","2012-2021","PI+2K","1hr","2hr","4hr","8hr"], "range": ["#4169e1","#0000ff","#ff0000","#0000ff","#0000ff","#0000ff","#0000ff"]}, "legend": null}
       }},
      {"data": {"name": "pd"},
       "transform": [{"filter": "datum.ord === 7"}],
       "mark": {"type": "point", "shape": "M0,-1L0.866,-0.5L0.866,0.5L0,1L-0.866,0.5L-0.866,-0.5Z", "filled": true, "size": 576, "opacity": 1},
       "encoding": {
         "x": {"field": "x", "type": "quantitative", "scale": {"domain": [7.5, 94.7], "nice": false, "zero": false}, "axis": null},
         "y": {"field": "y", "type": "quantitative", "scale": {"domain": [1, 2], "nice": false, "zero": false}, "axis": null},
         "color": {"field": "grp", "type": "nominal", "scale": {"domain": ["1980s","2012-2021","PI+2K","1hr","2hr","4hr","8hr"], "range": ["#4169e1","#0000ff","#ff0000","#0000ff","#0000ff","#0000ff","#0000ff"]}, "legend": null}
       }},
      {"data": {"name": "pd"},
       "transform": [{"filter": "datum.grp === 'PI+2K'"}],
       "mark": {"type": "text", "align": "left", "baseline": "middle", "dx": 14, "dy": -5, "fontSize": 15, "color": "#222222"},
       "encoding": {
         "x": {"field": "x", "type": "quantitative", "scale": {"domain": [7.5, 94.7], "nice": false, "zero": false}, "axis": null},
         "y": {"field": "y", "type": "quantitative", "scale": {"domain": [1, 2], "nice": false, "zero": false}, "axis": null},
         "text": {"field": "lab"}
       }},
      {"data": {"values": [{"v": 82.5}]},
       "mark": {"type": "rule", "color": "purple", "strokeWidth": 2.2, "strokeDash": [7, 3.5]},
       "encoding": {
         "x": {"field": "v", "type": "quantitative", "scale": {"domain": [7.5, 94.7], "nice": false, "zero": false}, "axis": null}
       }},
      {"data": {"values": [{"v": 90.7}]},
       "mark": {"type": "rule", "color": "purple", "strokeWidth": 2.2},
       "encoding": {
         "x": {"field": "v", "type": "quantitative", "scale": {"domain": [7.5, 94.7], "nice": false, "zero": false}, "axis": null}
       }},
      {"data": {"values": [{"t": "d )"}]},
       "mark": {"type": "text", "align": "right", "baseline": "middle", "dx": -15, "dy": -18, "fontSize": 17, "color": "black"},
       "encoding": {
         "x": {"datum": 7.5, "type": "quantitative", "scale": {"domain": [7.5, 94.7], "nice": false, "zero": false}, "axis": null},
         "y": {"datum": 2, "type": "quantitative", "scale": {"domain": [1, 2], "nice": false, "zero": false}, "axis": null},
         "text": {"field": "t"}
       }}
    ]
  }
]
}
